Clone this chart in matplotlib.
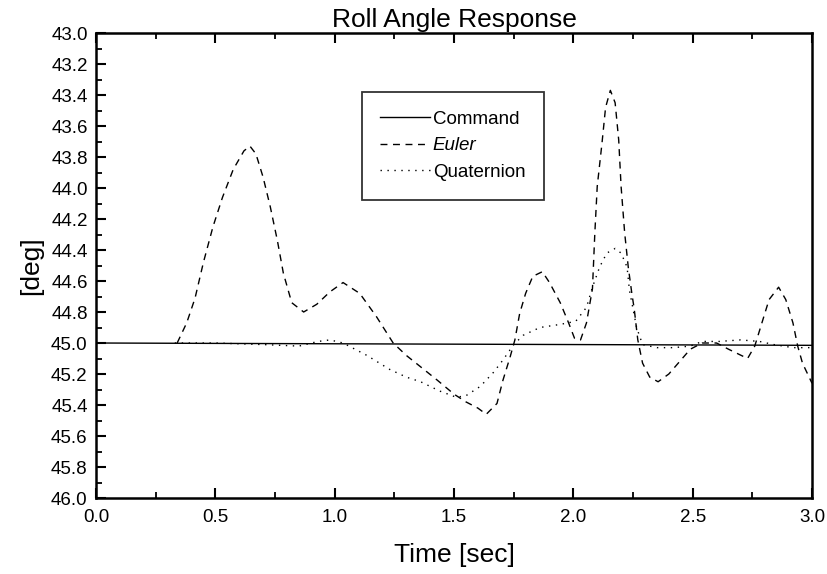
import matplotlib
matplotlib.use("Agg")
import matplotlib.pyplot as plt
from matplotlib.ticker import MultipleLocator, FormatStrFormatter

plt.rcParams['font.family'] = ['Liberation Sans', 'DejaVu Sans']

cmd_t = [0.0, 3.0]
cmd_v = [45.0, 45.015]

euler_t = [0.34, 0.38, 0.415, 0.45, 0.49, 0.53, 0.575, 0.62, 0.645, 0.67, 0.70, 0.73, 0.76,
           0.785, 0.82, 0.87, 0.925, 0.98, 1.035, 1.105, 1.175, 1.245, 1.30, 1.357, 1.43,
           1.50, 1.55, 1.60, 1.635, 1.68, 1.705, 1.735, 1.755, 1.775, 1.80, 1.83, 1.87,
           1.90, 1.945, 1.98, 2.005, 2.03, 2.055, 2.08, 2.09, 2.10, 2.12, 2.135, 2.155,
           2.175, 2.19, 2.20, 2.215, 2.23, 2.245, 2.255, 2.27, 2.29, 2.32, 2.355, 2.40,
           2.445, 2.49, 2.54, 2.60, 2.65, 2.73, 2.76, 2.79, 2.82, 2.86, 2.89, 2.92,
           2.94, 2.96, 3.0]
euler_v = [45.0, 44.87, 44.71, 44.48, 44.25, 44.06, 43.88, 43.76, 43.73, 43.78, 43.93, 44.12,
           44.34, 44.55, 44.74, 44.80, 44.75, 44.67, 44.61, 44.68, 44.83, 45.0, 45.08, 45.15,
           45.24, 45.33, 45.38, 45.42, 45.46, 45.39, 45.24, 45.09, 44.98, 44.81, 44.68,
           44.57, 44.54, 44.61, 44.74, 44.87, 44.97, 44.98, 44.87, 44.65, 44.29, 43.99,
           43.71, 43.48, 43.37, 43.45, 43.69, 43.99, 44.29, 44.51, 44.68, 44.78, 44.98,
           45.13, 45.22, 45.25, 45.20, 45.12, 45.04, 45.0, 45.0, 45.04, 45.10, 45.02,
           44.87, 44.72, 44.64, 44.72, 44.87, 45.02, 45.13, 45.26]

quat_t = [0.33, 0.50, 0.70, 0.85, 0.93, 0.98, 1.035, 1.135, 1.23, 1.30, 1.36, 1.44, 1.51,
          1.55, 1.61, 1.665, 1.705, 1.75, 1.79, 1.86, 1.945, 2.01, 2.055, 2.08, 2.11,
          2.14, 2.175, 2.20, 2.225, 2.235, 2.265, 2.29, 2.35, 2.42, 2.49, 2.54, 2.61,
          2.70, 2.78, 2.84, 2.92, 3.0]
quat_v = [45.0, 45.0, 45.01, 45.02, 44.99, 44.98, 45.0, 45.08, 45.17, 45.22, 45.25, 45.31,
          45.35, 45.34, 45.28, 45.19, 45.11, 45.01, 44.95, 44.90, 44.88, 44.86, 44.77,
          44.64, 44.51, 44.42, 44.39, 44.42, 44.51, 44.66, 44.90, 45.01, 45.03, 45.03,
          45.02, 44.99, 44.99, 44.98, 44.99, 45.01, 45.03, 45.03]

fig = plt.figure(figsize=(8.27, 5.74), dpi=100)
ax = fig.add_axes([0.1161, 0.1324, 0.8658, 0.8101])

ax.plot(cmd_t, cmd_v, color='black', lw=1.0, label='Command')
ax.plot(euler_t, euler_v, color='black', lw=1.0, linestyle=(0, (5, 4)), label='Euler')
ax.plot(quat_t, quat_v, color='black', lw=1.0, linestyle=(0, (1, 4)), label='Quaternion')

ax.set_xlim(0.0, 3.0)
ax.set_ylim(46.0, 43.0)
ax.xaxis.set_major_locator(MultipleLocator(0.5))
ax.xaxis.set_minor_locator(MultipleLocator(0.25))
ax.yaxis.set_major_locator(MultipleLocator(0.2))
ax.yaxis.set_minor_locator(MultipleLocator(0.1))
ax.xaxis.set_major_formatter(FormatStrFormatter('%.1f'))
ax.yaxis.set_major_formatter(FormatStrFormatter('%.1f'))

ax.tick_params(which='major', direction='in', length=7, width=1.5, top=True, right=False,
               labelsize=13.5)
ax.tick_params(which='minor', direction='in', length=4, width=1.3, top=True, right=False)
ax.tick_params(axis='x', which='major', pad=8)
ax.tick_params(axis='y', which='major', pad=6)
for s in ax.spines.values():
    s.set_linewidth(1.8)

ax.set_title('Roll Angle Response', fontsize=19, pad=4)
ax.set_xlabel('Time [sec]', fontsize=19, labelpad=12)
ax.set_ylabel('[deg]', fontsize=19, labelpad=6)

leg = ax.legend(loc='upper left', bbox_to_anchor=(0.371, 0.873), borderaxespad=0,
                fontsize=13.5, handlelength=2.65, handletextpad=0.15, frameon=True,
                fancybox=False, edgecolor='black', borderpad=1.0, labelspacing=0.5)
leg.get_frame().set_linewidth(1.3)
leg.get_texts()[1].set_style('italic')

fig.savefig('out.png', dpi=100)
